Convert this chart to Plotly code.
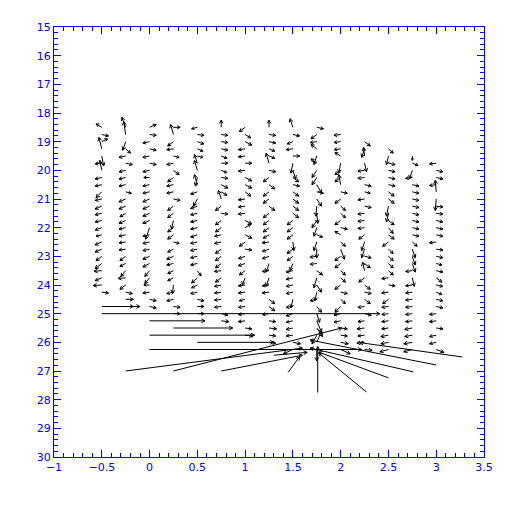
import math
import plotly.graph_objects as go

# ---------------- data ----------------
# grid columns (x) and first row (y) of each column; rows every 0.25
X_COLS = [-0.5, -0.25, 0.0, 0.25, 0.5, 0.75, 1.0, 1.25, 1.5, 1.75, 2.0, 2.25, 2.5, 2.75, 3.0]
Y_TOP = [18.5, 18.5, 18.5, 18.5, 18.5, 18.5, 18.5, 18.5, 18.5, 18.5, 18.75, 19.0, 19.25, 19.5, 19.75]
ROW_STEP = 0.25

# vector components in hundredths of an axis unit (u along x, v along y)
U_M050 = [-6, 7, 6, -3, 2, -7, -2, -7, -7, -6, -7, -7, -7, -7, -7, -6, -7, -7, -6, -7, -8, -7, -9, 7]
V_M050 = [-12, 5, -10, -40, 35, 2, -35, 5, 5, 20, 5, 10, 5, 5, 8, 5, 10, 10, 15, 18, 2, 10, 2, 3]
U_M025 = [-4, -2, -3, 5, -7, 7, -7, -7, -7, 6, -7, -7, -6, -7, -7, -7, -7, -7, -6, -6, -5, -8, -6, 7, 8, 8]
V_M025 = [-35, -45, 30, 15, 5, 5, 5, 5, 5, 5, 10, 10, 12, 10, 5, 5, 3, 3, 15, 10, 20, 2, 15, 5, 0, 0]
U_P000 = [7, 7, -7, 7, -7, 7, -7, -6, -7, -7, -7, -7, -7, -7, -4, -7, -7, -7, -7, -7, -5, -5, -6, -7, 7, 7]
V_P000 = [-10, 3, 5, 5, 5, 5, 5, 0, 5, 5, 10, 10, 10, 10, 40, 5, 5, 5, 10, 12, 20, 20, 0, 3, 5, 5]
U_P025 = [7, -3, -6, -7, 6, -7, 6, -6, -7, -7, 7, -6, -6, -2, -6, -6, 6, -6, -7, -7, -6, -6, -1, -7, -7, 7, 7]
V_P025 = [0, -35, 15, 3, 5, 5, 15, 15, 5, 5, 5, 15, 15, 30, 15, 15, 5, 10, 10, 5, 10, 10, 30, 5, 5, 3, 0]
U_P050 = [-6, 7, 7, 6, 6, -3, -3, -2, -3, -7, -4, -7, -7, -7, -7, -7, -7, -7, -7, -7, 4, -6, -6, -7, 7, 7, 7]
V_P050 = [5, 3, 8, 8, 5, -30, -35, 30, -35, 8, 25, 8, 5, 5, 5, 8, 5, 5, 5, 5, 18, 18, 10, 5, 5, 0, 0]
U_P075 = [0, 7, 7, 7, 6, 7, 6, 7, 7, 6, -3, -6, 7, -6, -6, -7, -7, -6, -6, -6, -7, -6, -7, -7, -7, -7, 7, 8]
V_P075 = [-25, 3, 3, 5, 8, 0, 8, 3, 12, 12, -30, 15, 3, 15, 15, 5, 5, 15, 15, 15, 3, 15, 5, 3, 3, 3, 5, 3]
U_P100 = [-6, 6, 7, -7, -7, 7, -7, 7, 7, 6, -7, -7, -7, 7, 6, 7, -6, 7, -7, -7, -6, -3, -7, -7, -6, -7, -7, -7, 7, 8]
V_P100 = [15, 12, 12, 3, 3, 0, 3, 12, 12, 15, 3, 3, 3, 12, -12, 12, 15, 3, 8, 8, 15, 25, 3, 3, 5, 3, 3, 3, 3, 3]
U_P125 = [0, 7, 7, 6, 6, -3, 7, -6, 6, -6, -6, 6, -6, -6, -6, -6, -7, -7, -7, -3, -7, -3, -7, -7, 6, 6, -7, 7, 8, 7, 7]
V_P125 = [-25, 3, 5, 8, 8, -35, 5, 15, 15, 15, 15, 15, 15, 15, 15, 12, 3, 8, 8, 30, 3, 30, 3, 3, 15, 15, 3, 3, 3, 3, 3]
U_P150 = [-3, 7, -6, -7, 7, -2, 3, 6, 7, 6, 6, 6, 6, -6, -6, -6, 1, -6, -6, -3, -7, -7, -7, -7, -2, -7, -7, -7, -7, -7, 8, -10]
V_P150 = [-30, 5, 8, 3, 0, 35, 30, 15, 5, 15, 15, 15, 15, 15, 15, 15, 30, 15, 15, 25, 5, 5, 5, 5, 30, 3, 8, 5, 5, 3, 5, 15]
U_P175 = [7, -6, -7, -6, -3, -6, -5, -5, 5, 7, 5, -1, 1, -5, -3, 6, -3, 0, -7, -7, 6, -3, 5, -2, -7, 5, 3, 5, 6, -5, 5, 0]
V_P175 = [5, 15, 3, -15, 30, -15, 25, 25, 30, 5, 25, 35, 35, 25, 30, 8, 30, 30, 3, 3, 15, 35, 25, 30, 5, 20, 30, 40, 30, 30, -40, 40]
U_P200 = [-7, -7, -7, -6, -2, -6, -6, -2, 7, -6, 5, 5, -6, 7, -6, 5, 4, -6, -6, 5, 5, -6, 7, 5, -6, -7, -7, 7, 7, 8, 10]
V_P200 = [3, 3, 3, -12, 35, 15, 15, -35, 5, 15, 15, 15, 15, 5, -12, 15, 35, 15, 15, 15, 15, 15, 5, 15, 20, 5, 5, 3, 3, 5, 15]
U_P225 = [6, -3, -1, 2, -7, -7, 7, 6, -7, 7, -7, -7, -7, -6, -3, -3, 7, 6, -2, -6, 6, 7, 6, -7, 7, -7, -8, -7, -8, 8]
V_P225 = [15, 30, -30, 30, 3, 3, 5, 5, 3, 5, 3, 3, 3, 15, 30, 30, 5, 15, -30, 15, 15, 5, 15, 3, 5, 3, 3, 3, 3, 3]
U_P250 = [5, -2, 7, 7, 7, 7, 6, 6, -2, -2, 6, 5, 6, -6, 5, 5, 5, 5, -7, 7, -7, -6, -7, -7, -7, -7, -8, -8, -9]
V_P250 = [15, 30, 5, 5, 5, 5, 15, 15, 35, 30, 15, 20, 15, 15, 15, 15, 15, 15, 3, 3, 3, 15, 3, 3, 3, 3, 5, 5, 8]
U_P275 = [0, 6, -3, -7, 7, 7, 7, 7, 7, 7, 7, 7, 5, 3, 3, 3, -7, 2, -7, -7, -7, -7, -7, -7, -8, -8, -9, -9]
V_P275 = [15, 8, 30, 3, 5, 5, 5, 5, 5, 5, 5, 5, 15, 30, 30, 30, 3, 30, 3, 3, 3, 3, 3, 3, 5, 5, 5, 8]
U_P300 = [-7, 7, 7, -7, -1, -1, 7, 7, 7, 7, 7, -7, 7, 7, 6, 7, 6, 7, 6, 7, 7, -7, -7, 7, -7, -7, 8]
V_P300 = [3, 5, 5, 3, -40, 40, 3, 3, 5, 5, 5, 3, 3, 5, 5, 5, 15, 5, 8, 5, 5, 3, 3, 3, 5, 5, 10]

# long vectors near the bottom of the field (base x, base y, u, v) in axis units
LONG_X = [-0.5, -0.5, 0.0, 0.25, 0.0, 0.5, 0.0, -0.25, 0.25, 0.75, 1.76, 2.27, 2.50, 2.76, 3.00, 3.27, 1.45, 1.30]
LONG_Y = [24.75, 25.0, 25.25, 25.5, 25.75, 26.0, 26.25, 27.0, 27.0, 27.0, 27.75, 27.73, 27.24, 27.03, 26.79, 26.51, 27.05, 26.45]
LONG_U = [0.40, 2.91, 0.58, 0.62, 1.10, 0.80, 2.22, 1.85, 1.76, 0.85, 0.0, -0.50, -0.73, -1.08, -1.32, -1.07, 0.12, 0.35]
LONG_V = [0.0, 0.0, 0.0, 0.0, 0.0, 0.0, 0.0, -0.80, -1.50, -0.55, -1.60, -1.36, -0.90, -0.83, -0.87, -0.50, -0.55, -0.10]

COLS_U = [U_M050, U_M025, U_P000, U_P025, U_P050, U_P075, U_P100, U_P125,
          U_P150, U_P175, U_P200, U_P225, U_P250, U_P275, U_P300]
COLS_V = [V_M050, V_M025, V_P000, V_P025, V_P050, V_P075, V_P100, V_P125,
          V_P150, V_P175, V_P200, V_P225, V_P250, V_P275, V_P300]

# ---------------- layout geometry ----------------
XR = [-1, 3.5]
YR = [30, 15]
W = H = 512
ML, MT = 46, 19
PW = PH = 430
MR = W - ML - PW
MB = H - MT - PH
SX = PW / (XR[1] - XR[0])
SY = PH / (YR[0] - YR[1])

xs, ys = [], []


def add_arrow(x0, y0, u, v):
    x1, y1 = x0 + u, y0 + v
    dxp, dyp = u * SX, v * SY  # screen pixels (y down = larger data y)
    ln = math.hypot(dxp, dyp)
    xs.extend([x0, x1, None])
    ys.extend([y0, y1, None])
    if ln < 1e-6:
        return
    ux, uy = dxp / ln, dyp / ln
    h = min(4.0, 0.5 * ln)
    a = math.radians(28)
    for s in (1, -1):
        ca, sa = math.cos(a), math.sin(s * a)
        bx = -ux * ca + uy * sa
        by = -ux * sa - uy * ca
        xs.extend([x1, x1 + bx * h / SX, None])
        ys.extend([y1, y1 + by * h / SY, None])


for xc, yt, uc, vc in zip(X_COLS, Y_TOP, COLS_U, COLS_V):
    for k, (u, v) in enumerate(zip(uc, vc)):
        add_arrow(xc, yt + ROW_STEP * k, u / 100.0, v / 100.0)

for x0, y0, u, v in zip(LONG_X, LONG_Y, LONG_U, LONG_V):
    add_arrow(x0, y0, u, v)

fig = go.Figure()
fig.add_trace(go.Scatter(x=xs, y=ys, mode="lines",
                         line=dict(color="black", width=1),
                         hoverinfo="skip", showlegend=False))

BLUE = "#0000ff"
axis_common = dict(
    showgrid=False, zeroline=False, showline=True, linecolor=BLUE, linewidth=1,
    mirror="allticks", ticks="inside", tickcolor=BLUE, ticklen=7, tickwidth=1,
    tickfont=dict(family="DejaVu Sans", size=11, color=BLUE),
)
fig.update_xaxes(range=XR, dtick=0.5, tick0=-1,
                 minor=dict(dtick=0.1, ticks="inside", ticklen=4, tickcolor=BLUE, showgrid=False),
                 **axis_common)
fig.update_yaxes(range=YR, dtick=1, tick0=15,
                 minor=dict(dtick=0.2, ticks="inside", ticklen=4, tickcolor=BLUE, showgrid=False),
                 **axis_common)
fig.update_layout(width=W, height=H, margin=dict(l=ML, r=MR, t=MT, b=MB),
                  plot_bgcolor="white", paper_bgcolor="white")
fig.write_html("out.html")
